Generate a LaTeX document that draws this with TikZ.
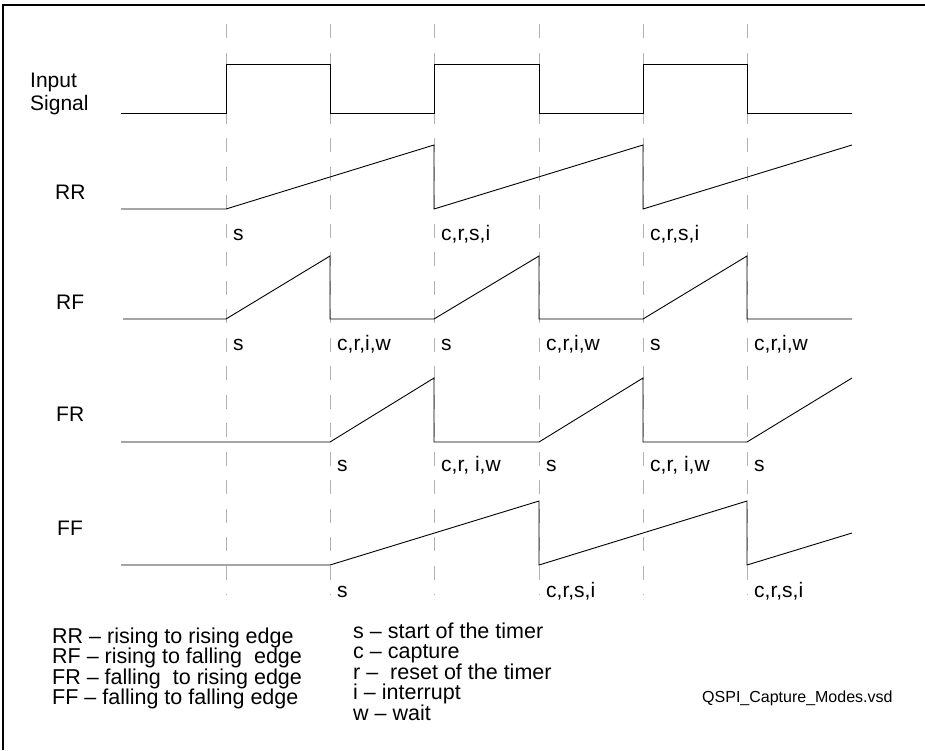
\documentclass[tikz,border=0pt]{standalone}
\usepackage{fontspec}
\setmainfont{Liberation Sans}
\usepackage{tikz}
\usetikzlibrary{positioning}

\begin{document}
\begin{tikzpicture}[x=1pt, y=-1pt,
      wave/.style={line width=0.9pt, line join=miter},
      gridline/.style={draw=black!30, line width=1pt, dash pattern=on 14pt off 14.5pt},
      rowname/.style={anchor=base west, inner sep=0pt, font=\fontsize{21}{23}\selectfont},
      tick/.style={anchor=base west, inner sep=0pt, font=\fontsize{21}{23}\selectfont},
      legend/.style={anchor=base west, inner sep=0pt, font=\fontsize{21.5}{21}\selectfont}]
      \useasboundingbox (0,0) rectangle (925,750);
      \draw[line width=1.3pt] (3,750) -- (3,5) -- (925,5);
      \foreach \x in {226,330,434,539,643,747}
        \draw[gridline] (\x,24) -- (\x,595);
      \node[rowname] (input) at (30,87) {Input};
      \node[rowname, below=0pt of input.base west, anchor=base west, yshift=-23pt] (signal) {Signal};
      \node[rowname] (rr) at (55,199) {RR};
      \node[rowname] (rf) at (56,309) {RF};
      \node[rowname] (fr) at (56,421) {FR};
      \node[rowname] (ff) at (57,535) {FF};
      \draw[wave] (121,113) -- (226,113) -- (226,64) -- (330,64) -- (330,113) -- (434,113) -- (434,64)
        -- (539,64) -- (539,113) -- (643,113) -- (643,64) -- (747,64) -- (747,113) -- (852,113);
      \draw[wave] (121,209) -- (226,209) -- (434,145) -- (434,209) -- (643,145) -- (643,209) -- (852,145);
      \draw[wave] (123,319) -- (226,319) -- (330,256) -- (330,319) -- (434,319) -- (539,256) -- (539,319)
        -- (643,319) -- (747,256) -- (747,319) -- (852,319);
      \draw[wave] (121,442) -- (330,442) -- (434,378) -- (434,442) -- (539,442) -- (643,378) -- (643,442)
        -- (747,442) -- (852,378);
      \draw[wave] (121,565) -- (330,565) -- (539,501) -- (539,565) -- (747,501) -- (747,565) -- (852,533);
      \foreach \x/\y/\t [count=\i] in {226/240/s, 434/240/{c,r,s,i}, 643/240/{c,r,s,i},
          226/350/s, 330/350/{c,r,i,w}, 434/350/s, 539/350/{c,r,i,w}, 643/350/s, 747/350/{c,r,i,w},
          330/471/s, 434/471/{c,r, i,w}, 539/471/s, 643/471/{c,r, i,w}, 747/471/s,
          330/597/s, 539/597/{c,r,s,i}, 747/597/{c,r,s,i}}
        \node[tick] (ev-\i) at (\x+7,\y) {\t};
      \foreach \t [count=\k] in {RR -- rising to rising edge, RF -- rising to falling~ edge,
          FR -- falling~ to rising edge, FF -- falling to falling edge}
        \node[legend] (mode-\k) at (52,622.5+20.5*\k) {\t};
      \foreach \t [count=\k] in {s -- start of the timer, c -- capture, r --~ reset of the timer,
          i -- interrupt, w -- wait}
        \node[legend] (key-\k) at (353,617.5+20.5*\k) {\t};
      \node[anchor=base west, inner sep=0pt, font=\fontsize{16}{18}\selectfont] (file) at (702,702) {QSPI\_Capture\_Modes.vsd};
\end{tikzpicture}
\end{document}
